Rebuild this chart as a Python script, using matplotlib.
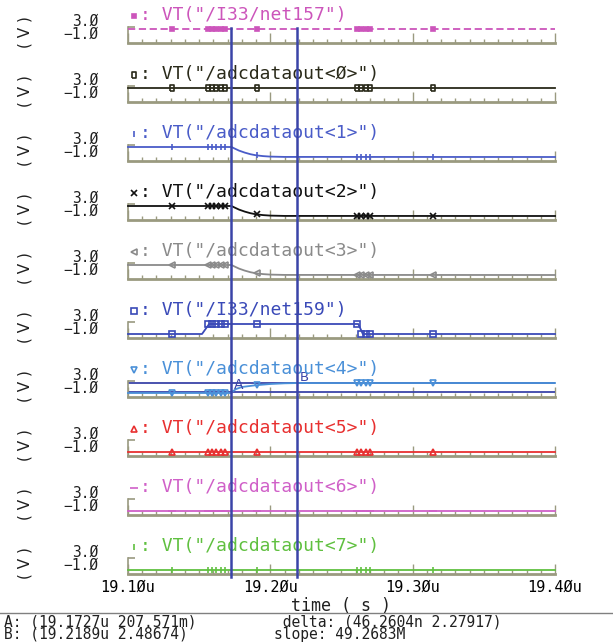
import matplotlib
matplotlib.use('Agg')
import matplotlib.pyplot as plt
from matplotlib.lines import Line2D
from matplotlib.transforms import blended_transform_factory

# ---------------- data ----------------
x_min, x_max = 19.10, 19.40
xtick_major = [19.10, 19.20, 19.30, 19.40]
xtick_minor = [19.10 + 0.01 * k for k in range(31)]
xtick_labels = ['19.1Øu', '19.2Øu', '19.3Øu', '19.4Øu']
y_min, y_max = -1.0, 3.0
ytick_labels = ['3.Ø', '−1.Ø']

names = ['VT("/I33/net157")', 'VT("/adcdataout<Ø>")', 'VT("/adcdataout<1>")',
         'VT("/adcdataout<2>")', 'VT("/adcdataout<3>")', 'VT("/I33/net159")',
         'VT("/adcdataout<4>")', 'VT("/adcdataout<5>")', 'VT("/adcdataout<6>")',
         'VT("/adcdataout<7>")']

# constant-level traces
t_const = [19.10, 19.40]
v_high = [2.5, 2.5]
v_low = [0.0, 0.0]

# falling traces (<1>, <2>, <3>)
t_fall = [19.10, 19.1727, 19.175, 19.178, 19.182, 19.186, 19.19, 19.195, 19.20, 19.21, 19.40]
v_fall = [2.5, 2.5, 2.1, 1.6, 1.1, 0.7, 0.42, 0.22, 0.1, 0.02, 0.0]

# net159 pulse
t_pulse = [19.10, 19.152, 19.157, 19.2618, 19.265, 19.40]
v_pulse = [0.0, 0.0, 2.5, 2.5, 0.0, 0.0]

# <4> rising trace
t_rise = [19.10, 19.1727, 19.1727, 19.176, 19.18, 19.19, 19.20, 19.21, 19.2189, 19.40]
v_rise = [0.0, 0.0, 0.2076, 1.0, 1.5, 1.95, 2.25, 2.42, 2.4867, 2.5]

# marker positions
mk_t = [19.131, 19.156, 19.159, 19.162, 19.165, 19.168, 19.1906,
        19.261, 19.264, 19.267, 19.270, 19.314]
mk_high = [2.5] * 12
mk_low = [0.0] * 12
mk_fall = [2.5, 2.5, 2.5, 2.5, 2.5, 2.5, 0.38, 0.0, 0.0, 0.0, 0.0, 0.0]
mk_pulse = [0.0, 2.5, 2.5, 2.5, 2.5, 2.5, 2.5, 2.5, 0.0, 0.0, 0.0, 0.0]
mk_rise = [0.0, 0.0, 0.0, 0.0, 0.0, 0.0, 1.95, 2.5, 2.5, 2.5, 2.5, 2.5]

cursor_a = (19.1727, 0.207571)
cursor_b = (19.2189, 2.48674)
readout_a = 'A: (19.1727u 207.571m)'
readout_b = 'B: (19.2189u 2.48674)'
readout_delta = 'delta: (46.2604n 2.27917)'
readout_slope = 'slope: 49.2683M'

# ---------------- styles ----------------
rect_marker = [(-0.5, -1), (0.5, -1), (0.5, 1), (-0.5, 1), (-0.5, -1)]
traces = [
    dict(t=t_const, v=v_high, mv=mk_high, color='#cc55bb', ls=(0, (4, 2)), mk='s', ms=2.5, fill=True),
    dict(t=t_const, v=v_high, mv=mk_high, color='#2a2a1a', ls='-', mk=rect_marker, ms=5, fill=False),
    dict(t=t_fall, v=v_fall, mv=mk_fall, color='#4a5cc8', ls='-', mk='|', ms=5, fill=True),
    dict(t=t_fall, v=v_fall, mv=mk_fall, color='#111111', ls='-', mk='x', ms=4, fill=True),
    dict(t=t_fall, v=v_fall, mv=mk_fall, color='#8a8a8a', ls='-', mk='<', ms=4, fill=False),
    dict(t=t_pulse, v=v_pulse, mv=mk_pulse, color='#3a4ab8', ls='-', mk='s', ms=4.5, fill=False),
    dict(t=t_rise, v=v_rise, mv=mk_rise, color='#4a90d8', ls='-', mk='v', ms=4.5, fill=False),
    dict(t=t_const, v=v_low, mv=mk_low, color='#e83030', ls='-', mk='^', ms=4.5, fill=False),
    dict(t=t_const, v=v_low, mv=mk_low, color='#d060c8', ls='-', mk='_', ms=6, fill=True),
    dict(t=t_const, v=v_low, mv=mk_low, color='#60c040', ls='-', mk='|', ms=4, fill=True),
]

W, H = 613, 644
fig = plt.figure(figsize=(W / 100, H / 100), dpi=100)
fig.patch.set_facecolor('white')
axc = '#9a9a80'
curc = '#3a44a8'
mono = 'DejaVu Sans Mono'
txtc = '#202020'

def fy(px):
    return 1 - px / H

def fx(px):
    return px / W

axes = []
for i, (name, tr) in enumerate(zip(names, traces)):
    base = 43 + 59 * i
    ax = fig.add_axes([fx(128), fy(base), 427 / W, 16 / H])
    ax.patch.set_alpha(0)
    ax.set_xlim(x_min, x_max)
    ax.set_ylim(y_min, y_max)
    for sp in ['top', 'right']:
        ax.spines[sp].set_visible(False)
    ax.spines['bottom'].set_color(axc)
    ax.spines['bottom'].set_linewidth(2)
    ax.spines['left'].set_color(axc)
    ax.spines['left'].set_linewidth(1.2)
    ax.set_xticks(xtick_major)
    ax.set_xticks(xtick_minor, minor=True)
    ax.tick_params(axis='x', which='major', direction='in', length=7, width=1, color=axc)
    ax.tick_params(axis='x', which='minor', direction='in', length=3, width=1, color=axc)
    ax.set_yticks([3.0])
    ax.tick_params(axis='y', direction='in', length=5, width=1.2, color=axc, labelleft=False)
    if i == len(names) - 1:
        ax.set_xticklabels(xtick_labels, fontfamily=mono, fontsize=11)
        ax.tick_params(axis='x', which='major', pad=4)
    else:
        ax.set_xticklabels([])
    lc = tr['color']
    ax.plot(tr['t'], tr['v'], color=lc, lw=1.3, ls=tr['ls'], clip_on=False, zorder=3)
    ax.plot(mk_t, tr['mv'], ls='none', marker=tr['mk'], ms=tr['ms'], color=lc,
            mfc=lc if tr['fill'] else 'none', mec=lc, mew=1.2, clip_on=False, zorder=4)
    # label
    fig.add_artist(Line2D([fx(134)], [fy(base - 27)], marker=tr['mk'], ms=tr['ms'],
                          color=lc, mfc=lc if tr['fill'] else 'none', mec=lc, mew=1.2,
                          transform=fig.transFigure))
    fig.text(fx(140), fy(base - 28), ': ' + name, color=lc, fontfamily=mono,
             fontsize=13, ha='left', va='center')
    fig.text(fx(98), fy(base - 15), ytick_labels[0] + '\n' + ytick_labels[1],
             fontfamily=mono, fontsize=10.5, ha='right', va='center', multialignment='right',
             linespacing=0.85, color=txtc)
    fig.text(fx(25), fy(base - 11), '( V )', fontfamily='DejaVu Sans', fontsize=11,
             rotation=90, ha='center', va='center', color=txtc)
    axes.append(ax)

# cursor horizontal lines and labels on <4>
ax7 = axes[6]
ax7.axhline(cursor_a[1], color=curc, lw=1.3, zorder=2)
ax7.axhline(cursor_b[1], color=curc, lw=1.3, zorder=2)
ax7.text(cursor_a[0] + 0.002, cursor_a[1] + 0.15, 'A', color=curc, fontfamily='DejaVu Sans',
         fontsize=10, ha='left', va='bottom')
ax7.text(cursor_b[0] + 0.002, cursor_b[1] - 0.3, 'B', color=curc, fontfamily='DejaVu Sans',
         fontsize=9.5, ha='left', va='bottom')

# vertical cursor lines spanning all strips
tr_bl = blended_transform_factory(axes[-1].transData, fig.transFigure)
for cx in (cursor_a[0], cursor_b[0]):
    fig.add_artist(Line2D([cx, cx], [fy(28), fy(577)], color=curc, lw=1.8,
                          transform=tr_bl, zorder=10))

fig.text(fx(341), fy(606), 'time ( s )', fontfamily=mono, fontsize=12,
         ha='center', va='center', color=txtc)
fig.add_artist(Line2D([0, 1], [fy(613), fy(613)], color='#808080', lw=1,
                      transform=fig.transFigure))
fig.text(fx(4), fy(628), readout_a + '\n' + readout_b, fontfamily=mono, fontsize=10.5,
         ha='left', va='center', linespacing=0.82, color=txtc)
fig.text(fx(274), fy(628), ' ' + readout_delta + '\n' + readout_slope, fontfamily=mono,
         fontsize=10.5, ha='left', va='center', linespacing=0.82, color=txtc)

fig.savefig('out.png', dpi=100)
